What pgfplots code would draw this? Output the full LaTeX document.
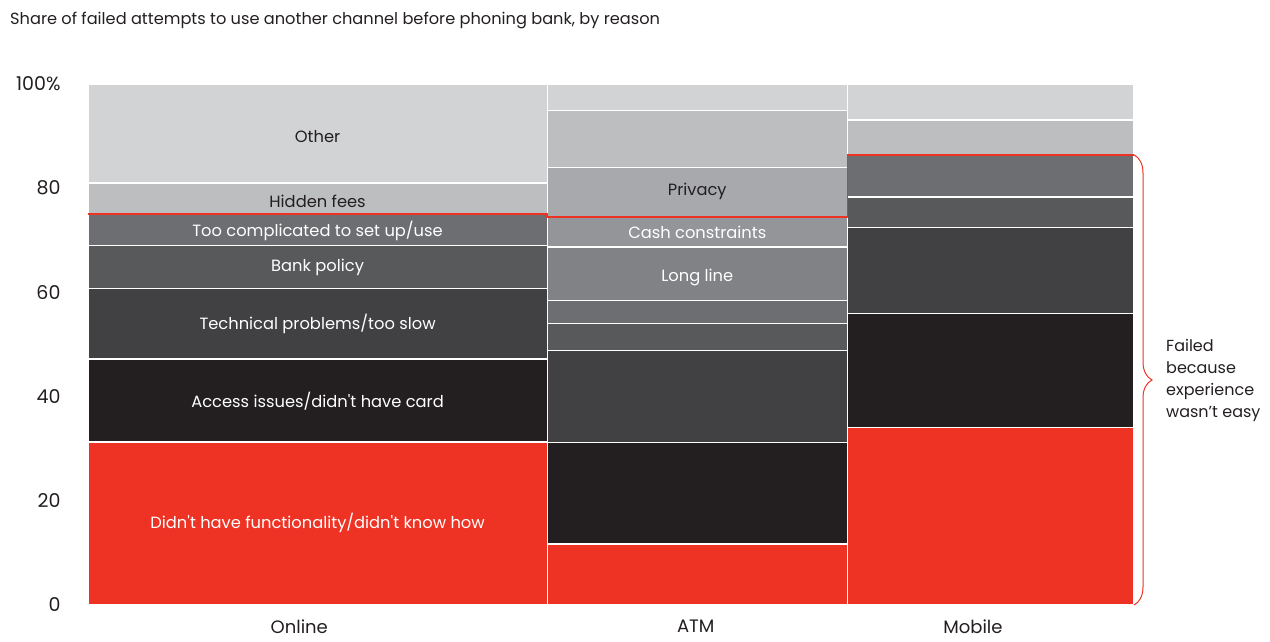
\documentclass[border=0pt]{standalone}
\usepackage{pgfplots}
\pgfplotsset{compat=1.18}
\usepackage{fontspec}
\setmainfont{Poppins}
\usetikzlibrary{decorations.pathreplacing}
\definecolor{cred}{HTML}{EE3224}
\definecolor{cblack}{HTML}{231F20}
\definecolor{ctech}{HTML}{414042}
\definecolor{cbank}{HTML}{58595B}
\definecolor{ctoo}{HTML}{6D6E71}
\definecolor{clong}{HTML}{808285}
\definecolor{ccash}{HTML}{939598}
\definecolor{cpriv}{HTML}{A7A9AC}
\definecolor{chid}{HTML}{BCBEC0}
\definecolor{coth}{HTML}{D1D3D4}
\definecolor{ctxt}{HTML}{231F20}
\newcommand{\lab}{\fontsize{16.3}{19}\selectfont}
\begin{document}
\begin{tikzpicture}[x=1pt,y=1pt]
\useasboundingbox (0,0) rectangle (1270,641);
\node[anchor=west, text=ctxt, font=\fontsize{16.2}{18}\selectfont, inner sep=0] at (10,620) {Share of failed attempts to use another channel before phoning bank, by reason};
\begin{axis}[at={(88pt,36pt)}, anchor=south west, scale only axis,
  width=1046pt, height=521pt, xmin=0, xmax=100, ymin=0, ymax=100,
  axis line style={draw=none}, tick style={draw=none},
  /pgf/number format/assume math mode=true,
  ytick={0,20,40,60,80,100}, yticklabels={0,20,40,60,80,100\%},
  yticklabel style={font=\fontsize{19}{21}\selectfont, text=ctxt, anchor=east, xshift=-24pt, yshift=0pt},
  xtick={20.2,58.1,84.6}, xticklabels={Online,ATM,Mobile},
  xticklabel style={font=\fontsize{18}{20}\selectfont, text=ctxt, yshift=-11pt},
  clip=false]
\pgfplotsset{seg/.style={fill=#1, draw=white, line width=1.2pt}}
% Online
\addplot[seg=cred]   coordinates {(0,0) (43.9,0) (43.9,31.3) (0,31.3)} -- cycle;
\addplot[seg=cblack] coordinates {(0,31.3) (43.9,31.3) (43.9,47.2) (0,47.2)} -- cycle;
\addplot[seg=ctech]  coordinates {(0,47.2) (43.9,47.2) (43.9,60.8) (0,60.8)} -- cycle;
\addplot[seg=cbank]  coordinates {(0,60.8) (43.9,60.8) (43.9,69.0) (0,69.0)} -- cycle;
\addplot[seg=ctoo]   coordinates {(0,69.0) (43.9,69.0) (43.9,75.0) (0,75.0)} -- cycle;
\addplot[seg=chid]   coordinates {(0,75.0) (43.9,75.0) (43.9,81.0) (0,81.0)} -- cycle;
\addplot[seg=coth]   coordinates {(0,81.0) (43.9,81.0) (43.9,100) (0,100)} -- cycle;
% ATM
\addplot[seg=cred]   coordinates {(43.9,0) (72.6,0) (72.6,11.7) (43.9,11.7)} -- cycle;
\addplot[seg=cblack] coordinates {(43.9,11.7) (72.6,11.7) (72.6,31.2) (43.9,31.2)} -- cycle;
\addplot[seg=ctech]  coordinates {(43.9,31.2) (72.6,31.2) (72.6,48.8) (43.9,48.8)} -- cycle;
\addplot[seg=cbank]  coordinates {(43.9,48.8) (72.6,48.8) (72.6,54.1) (43.9,54.1)} -- cycle;
\addplot[seg=ctoo]   coordinates {(43.9,54.1) (72.6,54.1) (72.6,58.5) (43.9,58.5)} -- cycle;
\addplot[seg=clong]  coordinates {(43.9,58.5) (72.6,58.5) (72.6,68.7) (43.9,68.7)} -- cycle;
\addplot[seg=ccash]  coordinates {(43.9,68.7) (72.6,68.7) (72.6,74.5) (43.9,74.5)} -- cycle;
\addplot[seg=cpriv]  coordinates {(43.9,74.5) (72.6,74.5) (72.6,84.0) (43.9,84.0)} -- cycle;
\addplot[seg=chid]   coordinates {(43.9,84.0) (72.6,84.0) (72.6,94.9) (43.9,94.9)} -- cycle;
\addplot[seg=coth]   coordinates {(43.9,94.9) (72.6,94.9) (72.6,100) (43.9,100)} -- cycle;
% Mobile
\addplot[seg=cred]   coordinates {(72.6,0) (100,0) (100,34.1) (72.6,34.1)} -- cycle;
\addplot[seg=cblack] coordinates {(72.6,34.1) (100,34.1) (100,56.0) (72.6,56.0)} -- cycle;
\addplot[seg=ctech]  coordinates {(72.6,56.0) (100,56.0) (100,72.4) (72.6,72.4)} -- cycle;
\addplot[seg=cbank]  coordinates {(72.6,72.4) (100,72.4) (100,78.3) (72.6,78.3)} -- cycle;
\addplot[seg=ctoo]   coordinates {(72.6,78.3) (100,78.3) (100,86.4) (72.6,86.4)} -- cycle;
\addplot[seg=chid]   coordinates {(72.6,86.4) (100,86.4) (100,93.1) (72.6,93.1)} -- cycle;
\addplot[seg=coth]   coordinates {(72.6,93.1) (100,93.1) (100,100) (72.6,100)} -- cycle;
% red outline
\addplot[draw=cred, line width=1.6pt] coordinates {(0,75.0) (43.9,75.0) (43.9,74.5) (72.6,74.5) (72.6,86.4) (100,86.4)};
% brace
\draw[cred, line width=1pt, decorate, decoration={brace, amplitude=18pt, aspect=0.5}] (axis cs:100,86.4) -- (axis cs:100,0);
% labels
\node[text=ctxt, font=\lab] at (axis cs:21.95,90.0) {Other};
\node[text=ctxt, font=\lab] at (axis cs:21.95,77.5) {Hidden fees};
\node[text=white, font=\lab] at (axis cs:21.95,71.8) {Too complicated to set up/use};
\node[text=white, font=\lab] at (axis cs:21.95,64.8) {Bank policy};
\node[text=white, font=\lab] at (axis cs:21.95,53.9) {Technical problems/too slow};
\node[text=white, font=\lab] at (axis cs:21.95,39.1) {Access issues/didn\textquotesingle t have card};
\node[text=white, font=\lab] at (axis cs:21.95,15.8) {Didn\textquotesingle t have functionality/didn\textquotesingle t know how};
\node[text=ctxt, font=\lab] at (axis cs:58.25,79.4) {Privacy};
\node[text=white, font=\lab] at (axis cs:58.25,71.5) {Cash constraints};
\node[text=white, font=\lab] at (axis cs:58.25,62.9) {Long line};
\end{axis}
\node[anchor=west, align=left, text=ctxt, font=\fontsize{16}{22}\selectfont, inner sep=0] at (1166,261) {Failed\\because\\experience\\wasn’t easy};
\end{tikzpicture}
\end{document}
